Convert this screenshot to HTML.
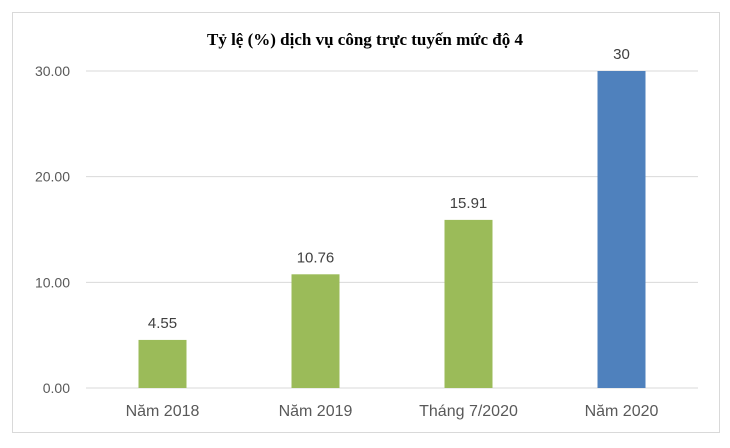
<!DOCTYPE html>
<html><head><meta charset="utf-8"><style>
body{margin:0;background:#fff;width:730px;height:443px;overflow:hidden}
svg text{font-family:"Liberation Sans",sans-serif}
</style></head><body>
<svg id="chart" width="730" height="443">
<rect x="12.5" y="12.5" width="707" height="420" fill="#fff" stroke="#d9d9d9"/>
<text x="365" y="45" text-anchor="middle" font-family="Liberation Serif" font-weight="bold" font-size="17" fill="#000" style="font-family:'Liberation Serif',serif">Tỷ lệ (%) dịch vụ công trực tuyến mức độ 4</text>
<g id="grid"></g><g id="bars"></g>
</svg>
<script>
const categories=["Năm 2018","Năm 2019","Tháng 7/2020","Năm 2020"];
const values=[4.55,10.76,15.91,30];
const valueLabels=["4.55","10.76","15.91","30"];
const colors=["#9bbb59","#9bbb59","#9bbb59","#4f81bd"];
const ticks=[0,10,20,30];
const tickLabels=["0.00","10.00","20.00","30.00"];
const NS="http://www.w3.org/2000/svg";
const x0=86,x1=698,yb=388,yt=71,vmax=30;
const y=v=>yb-(yb-yt)*v/vmax;
const band=(x1-x0)/categories.length;
const xc=i=>x0+band*(i+0.5);
const grid=document.getElementById('grid'),bars=document.getElementById('bars');
function mk(t,a,p){const e=document.createElementNS(NS,t);for(const k in a)e.setAttribute(k,a[k]);p.appendChild(e);return e;}
ticks.forEach((t,i)=>{
 const l=mk('line',{x1:x0,x2:x1,y1:y(t),y2:y(t),stroke:'#d9d9d9','stroke-width':1},grid);
 
 
 const tx=mk('text',{x:70,y:y(t)+5,'text-anchor':'end','font-size':14,fill:'#595959'},grid);
 tx.textContent=tickLabels[i];
 
 
});
categories.forEach((c,i)=>{
 const w=48;
 const r=mk('rect',{x:xc(i)-w/2,y:y(values[i]),width:w,height:yb-y(values[i]),fill:colors[i]},bars);
 
 
 const v=mk('text',{x:xc(i),y:y(values[i])-12,'text-anchor':'middle','font-size':15,fill:'#404040'},bars);
 v.textContent=valueLabels[i];
 
 
 const t=mk('text',{x:xc(i),y:416,'text-anchor':'middle','font-size':16,fill:'#595959'},bars);
 t.textContent=c;
 
 
});
</script>
</body></html>
